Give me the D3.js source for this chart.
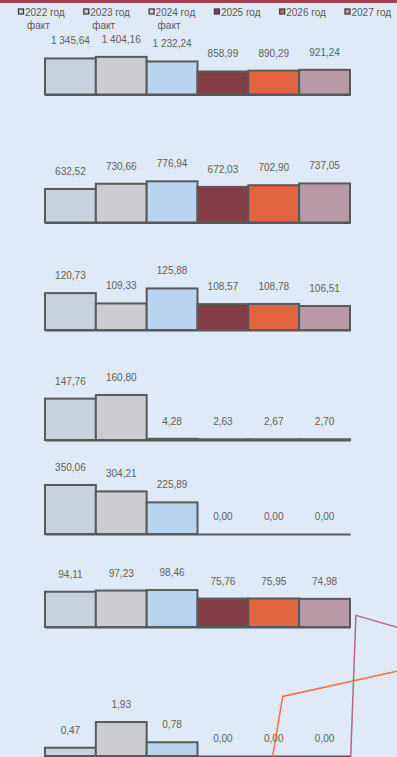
<!DOCTYPE html>
<html>
<head>
<meta charset="utf-8">
<script src="https://cdn.jsdelivr.net/npm/d3@7"></script>
<style>
  html, body { margin: 0; padding: 0; background: #dfeaf6; }
  svg { display: block; font-family: "Liberation Sans", Arial, sans-serif; }
</style>
</head>
<body>
<div id="chart"></div>
<script>
const width = 397;
const height = 757;

const years = ["2022", "2023", "2024", "2025", "2026", "2027"];
const legendLines = [
  ["2022 год", "факт"],
  ["2023 год", "факт"],
  ["2024 год", "факт"],
  ["2025 год"],
  ["2026 год"],
  ["2027 год"]
];
const colors = ["#c8d2dc", "#cccdd0", "#b9d4ee", "#843c46", "#e3653f", "#b89aa6"];

// one row of values per panel, top to bottom
const row1 = [1345.64, 1404.16, 1232.24, 858.99, 890.29, 921.24];
const row2 = [632.52, 730.66, 776.94, 672.03, 702.90, 737.05];
const row3 = [120.73, 109.33, 125.88, 108.57, 108.78, 106.51];
const row4 = [147.76, 160.80, 4.28, 2.63, 2.67, 2.70];
const row5 = [350.06, 304.21, 225.89, 0, 0, 0];
const row6 = [94.11, 97.23, 98.46, 75.76, 75.95, 74.98];
const row7 = [0.47, 1.93, 0.78, 0, 0, 0];
const rows = [row1, row2, row3, row4, row5, row6, row7];

// value range shown by each panel
const yDomains = [[0, 1866], [0, 943], [80, 135.2], [0, 178.6], [0, 357], [0, 133.3], [0, 2.84]];

// fragments of two lines running in from the right edge
const orangeX = [0, 1.2, 14];
const orangeY = [-0.5, 10.1, 14.3];
const mauveX = [8.8, 9.4, 14.3];
const mauveY = [-0.5, 23.6, 21.5];

const baselines = [94.5, 222.5, 330, 440, 534, 627, 756];
const panelHeight = 50;
const margin = {left: 45, right: 47};

const locale = d3.formatLocale({decimal: ",", thousands: "\u00a0", grouping: [3]});
const fmt = locale.format(",.2f");

const svg = d3.select("#chart")
  .append("svg")
  .attr("width", width)
  .attr("height", height)
  .attr("viewBox", [0, 0, width, height]);

svg.append("rect")
  .attr("width", width).attr("height", height)
  .attr("fill", "#dfeaf6");

svg.append("rect")
  .attr("width", width).attr("height", 3)
  .attr("fill", "#a0454f");

const x = d3.scaleBand()
  .domain(years)
  .range([margin.left, width - margin.right])
  .padding(0);

// legend
const lx = d3.scalePoint()
  .domain(years)
  .range([18, 344.5]);

const legend = svg.append("g")
  .selectAll("g")
  .data(years)
  .join("g")
  .attr("transform", d => `translate(${lx(d)},0)`);

legend.append("rect")
  .attr("x", 0.5).attr("y", 9)
  .attr("width", 5).attr("height", 5)
  .attr("fill", (d, i) => colors[i])
  .attr("stroke", "#3f3f3f")
  .attr("stroke-width", 1.3);

legend.append("text")
  .attr("x", 7).attr("y", 15.5)
  .attr("fill", "#595959")
  .attr("font-size", 10)
  .text((d, i) => legendLines[i][0]);

legend.append("text")
  .attr("x", 9).attr("y", 29)
  .attr("fill", "#595959")
  .attr("font-size", 10)
  .text((d, i) => legendLines[i][1] || "");

// panels
rows.forEach((vals, p) => {
  const y = d3.scaleLinear()
    .domain(yDomains[p])
    .range([baselines[p], baselines[p] - panelHeight]);
  const top = d => y(Math.max(d, yDomains[p][0]));

  const g = svg.append("g");

  g.append("g")
    .attr("transform", `translate(0,${baselines[p]})`)
    .call(d3.axisBottom(x).tickSize(0).tickFormat(""))
    .call(a => a.select(".domain")
      .attr("stroke", "#595959")
      .attr("stroke-width", 2));

  g.append("g")
    .selectAll("rect")
    .data(vals)
    .join("rect")
    .attr("x", (d, i) => x(years[i]))
    .attr("width", x.bandwidth())
    .attr("y", top)
    .attr("height", d => baselines[p] - top(d))
    .attr("fill", (d, i) => colors[i])
    .attr("stroke", "#595959")
    .attr("stroke-width", 2);

  g.append("g")
    .selectAll("text")
    .data(vals)
    .join("text")
    .attr("x", (d, i) => x(years[i]) + x.bandwidth() / 2)
    .attr("y", d => top(d) - 14)
    .attr("text-anchor", "middle")
    .attr("fill", "#606060")
    .attr("font-size", 10)
    .text(d => fmt(d));
});

// line fragments
const lsx = d3.scaleLinear().domain([0, 14]).range([272, 397]);
const lsy = d3.scaleLinear().domain([0, 24]).range([757, 613]);
const pathGen = d3.line().x(d => lsx(d[0])).y(d => lsy(d[1]));

svg.append("path")
  .datum(mauveX.map((v, i) => [v, mauveY[i]]))
  .attr("fill", "none")
  .attr("stroke", "#b06a80")
  .attr("stroke-width", 1.5)
  .attr("d", pathGen);

svg.append("path")
  .datum(orangeX.map((v, i) => [v, orangeY[i]]))
  .attr("fill", "none")
  .attr("stroke", "#f4703e")
  .attr("stroke-width", 1.5)
  .attr("d", pathGen);
</script>
</body>
</html>
